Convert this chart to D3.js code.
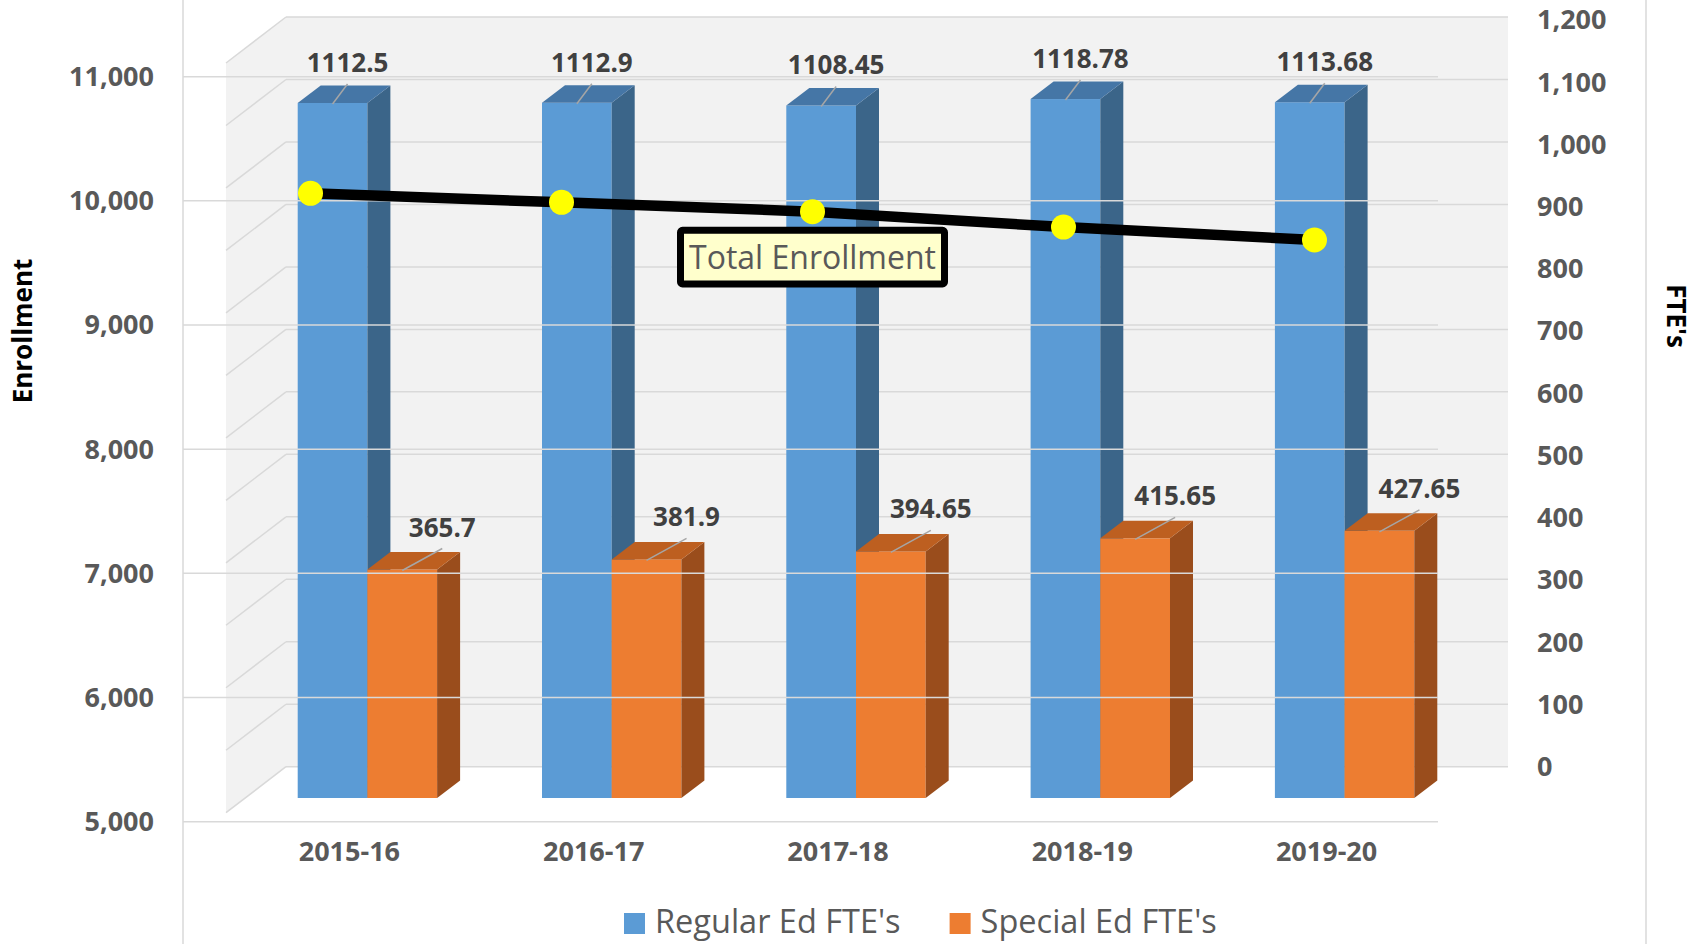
<!DOCTYPE html>
<html>
<head>
<meta charset="utf-8">
<script src="https://cdn.jsdelivr.net/npm/d3@7"></script>
<style>
  html, body { margin: 0; padding: 0; background: #fff; }
  svg { display: block; font-family: "Open Sans", "Noto Sans", sans-serif; }
</style>
</head>
<body>
<div id="chart"></div>
<script>
(function(){
// --- data ---
const categories = ["2015-16", "2016-17", "2017-18", "2018-19", "2019-20"];
const seriesNames = ["Regular Ed FTE's", "Special Ed FTE's"];
const regularEd = [1112.5, 1112.9, 1108.45, 1118.78, 1113.68];
const specialEd = [365.7, 381.9, 394.65, 415.65, 427.65];
const totalEnrollment = [10061, 9988, 9913, 9789, 9685];
const enrollTicks = [5000, 6000, 7000, 8000, 9000, 10000, 11000];
const fteTicks = [0, 100, 200, 300, 400, 500, 600, 700, 800, 900, 1000, 1100, 1200];

// --- size ---
const W = 1705, H = 944;
const depthX = 23, depthY = -17.5;       // bar depth
const wallDX = -60, wallDY = 46;         // side wall depth

const svg = d3.select("#chart").append("svg")
    .attr("width", W).attr("height", H);

// scales
const yEnroll = d3.scaleLinear().domain([5000, 11000]).range([821.7, 76.7]);
const yBack = d3.scaleLinear().domain([0, 1200]).range([766.7, 17]);
const yBackLabel = d3.scaleLinear().domain([0, 1200]).range([766.5, 20]);
const yBar = d3.scaleLinear().domain([0, 1200]).range([798, 798 - 749.7]);

const x3d = d3.scaleBand().domain(categories)
    .range([245.25, 245.25 + 5 * 244.3])
    .paddingInner(0.4294).paddingOuter(0.2147);
const xSub = d3.scaleBand().domain(seriesNames).range([0, x3d.bandwidth()]);
const xLine = d3.scaleBand().domain(categories).range([185, 1440]);

const colors = {
    "Regular Ed FTE's": { front: "#5b9bd5", side: "#3b6589", top: "#4576a6" },
    "Special Ed FTE's": { front: "#ed7d31", side: "#9a4d1c", top: "#bd5f20" }
};

// --- walls ---
const wallL = 286, wallR = 1508;
svg.append("rect")
    .attr("x", wallL).attr("y", yBack(1200))
    .attr("width", wallR - wallL).attr("height", yBack(0) - yBack(1200))
    .attr("fill", "#f2f2f2");
svg.append("polygon")
    .attr("points", [
        [wallL, yBack(1200)], [wallL + wallDX, yBack(1200) + wallDY],
        [wallL + wallDX, yBack(0) + wallDY], [wallL, yBack(0)]
    ].map(p => p.join(",")).join(" "))
    .attr("fill", "#f2f2f2");

const backGrid = svg.append("g").attr("stroke", "#d9d9d9").attr("stroke-width", 1.5);
backGrid.selectAll(".bg").data(fteTicks).enter().append("line")
    .attr("x1", wallL).attr("x2", wallR)
    .attr("y1", d => yBack(d)).attr("y2", d => yBack(d));
backGrid.selectAll(".sd").data(fteTicks).enter().append("line")
    .attr("x1", wallL).attr("x2", wallL + wallDX)
    .attr("y1", d => yBack(d)).attr("y2", d => yBack(d) + wallDY);

// --- 3D bars ---
const rows = categories.map((c, i) => ({
    cat: c,
    vals: [
        { name: seriesNames[0], value: regularEd[i] },
        { name: seriesNames[1], value: specialEd[i] }
    ]
}));

const bars = svg.append("g");
rows.forEach(r => {
    r.vals.forEach(v => {
        const x0 = x3d(r.cat) + xSub(v.name);
        const w = xSub.bandwidth();
        const yt = yBar(v.value), yb = yBar(0);
        const c = colors[v.name];
        const g = bars.append("g");
        g.append("rect").attr("x", x0).attr("y", yt)
            .attr("width", w).attr("height", yb - yt).attr("fill", c.front);
        g.append("polygon").attr("points", [
            [x0 + w, yt], [x0 + w + depthX, yt + depthY],
            [x0 + w + depthX, yb + depthY], [x0 + w, yb]
        ].map(p => p.join(",")).join(" ")).attr("fill", c.side);
        g.append("polygon").attr("points", [
            [x0, yt], [x0 + depthX, yt + depthY],
            [x0 + w + depthX, yt + depthY], [x0 + w, yt]
        ].map(p => p.join(",")).join(" ")).attr("fill", c.top);
    });
});

// --- front gridlines (enrollment axis) ---
svg.append("g").selectAll("line").data(enrollTicks).enter().append("line")
    .attr("x1", 183).attr("x2", 1438)
    .attr("y1", d => yEnroll(d)).attr("y2", d => yEnroll(d))
    .attr("stroke", "#d9d9d9").attr("stroke-width", 1.5);

// chart area side borders
[183, 1646].forEach(x => {
    svg.append("line").attr("x1", x).attr("x2", x).attr("y1", 0).attr("y2", H)
        .attr("stroke", "#d9d9d9").attr("stroke-width", 1.5);
});

// --- axis labels ---
const fmt = d3.format(",");
svg.append("g").selectAll("text").data(enrollTicks).enter().append("text")
    .attr("x", 154).attr("y", d => yEnroll(d))
    .attr("dy", "0.35em")
    .attr("text-anchor", "end")
    .style("font-size", "27px").style("font-weight", "bold").style("fill", "#595959")
    .text(d => fmt(d));

svg.append("g").selectAll("text").data(fteTicks).enter().append("text")
    .attr("x", 1537).attr("y", d => yBackLabel(d))
    .attr("dy", "0.35em")
    .style("font-size", "27px").style("font-weight", "bold").style("fill", "#595959")
    .text(d => fmt(d));

svg.append("g").selectAll("text").data(categories).enter().append("text")
    .attr("x", d => x3d(d) + x3d.bandwidth() / 2 - 18)
    .attr("y", 861)
    .attr("text-anchor", "middle")
    .style("font-size", "27px").style("font-weight", "bold").style("fill", "#595959")
    .text(d => d);

svg.append("text")
    .attr("transform", "translate(23,331) rotate(-90)")
    .attr("text-anchor", "middle").attr("dy", "0.35em")
    .style("font-size", "26px").style("font-weight", "bold").style("fill", "#000")
    .text("Enrollment");

svg.append("text")
    .attr("transform", "translate(1676,316) rotate(90)")
    .attr("text-anchor", "middle").attr("dy", "0.35em")
    .style("font-size", "26px").style("font-weight", "bold").style("fill", "#000")
    .text("FTE's");

// --- data labels with leader lines ---
const labels = svg.append("g");
rows.forEach(r => {
    r.vals.forEach((v, k) => {
        const cx = x3d(r.cat) + xSub(v.name) + xSub.bandwidth() / 2;
        const yt = yBar(v.value);
        const lx = cx + (k === 0 ? 15 : 40);
        const ly = yt - (k === 0 ? 31 : 33);
        labels.append("line")
            .attr("x1", cx).attr("y1", yt + 1)
            .attr("x2", lx).attr("y2", ly + 12)
            .attr("stroke", "#a6a6a6").attr("stroke-width", 1.5);
        labels.append("text")
            .attr("x", lx).attr("y", ly)
            .attr("text-anchor", "middle")
            .style("font-size", "26px").style("font-weight", "bold").style("fill", "#404040")
            .text(v.value);
    });
});

// --- total enrollment line ---
const pts = categories.map((c, i) => [xLine(c) + xLine.bandwidth() / 2, yEnroll(totalEnrollment[i])]);
svg.append("path")
    .attr("d", d3.line()(pts))
    .attr("fill", "none").attr("stroke", "#000").attr("stroke-width", 10.5);
svg.append("g").selectAll("circle").data(pts).enter().append("circle")
    .attr("cx", d => d[0]).attr("cy", d => d[1]).attr("r", 12.5)
    .attr("fill", "#ffff00");

// callout box
const bx = pts[2][0], by = pts[2][1] + 45.5;
svg.append("rect")
    .attr("x", bx - 132).attr("y", by - 26.8)
    .attr("width", 264).attr("height", 53.6)
    .attr("rx", 2)
    .attr("fill", "#ffffcc").attr("stroke", "#000").attr("stroke-width", 7);
svg.append("text")
    .attr("x", bx).attr("y", by + 12)
    .attr("text-anchor", "middle")
    .style("font-size", "32px").style("fill", "#595959")
    .text("Total Enrollment");

// --- legend ---
const legend = svg.append("g");
let lx = 624;
seriesNames.forEach(n => {
    legend.append("rect").attr("x", lx).attr("y", 913)
        .attr("width", 21).attr("height", 21).attr("fill", colors[n].front);
    const t = legend.append("text").attr("x", lx + 31).attr("y", 933)
        .style("font-size", "32.5px").style("fill", "#595959").text(n);
    lx += 31 + t.node().getComputedTextLength() + 49;
});
})();
</script>
</body>
</html>
